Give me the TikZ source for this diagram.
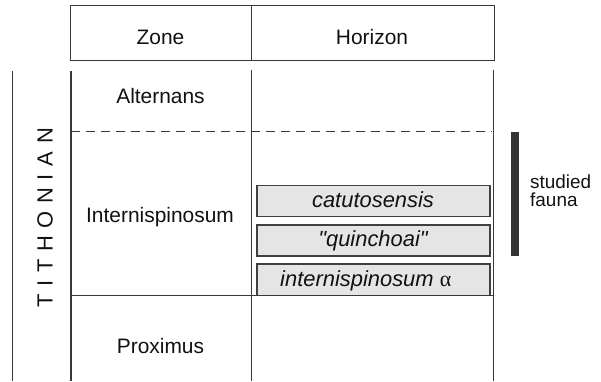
\documentclass[tikz,border=0pt]{standalone}
\usepackage{fontspec}
\setmainfont{Liberation Sans}
% plain family without the TeX quote mapping, for straight quotes
\newfontfamily\plainsans{Liberation Sans}
\newfontfamily\greekfont{Liberation Serif}
\definecolor{linegray}{HTML}{383838}
\definecolor{boxedge}{HTML}{404040}
\definecolor{boxfill}{HTML}{E5E5E5}
\definecolor{bargray}{HTML}{333333}
\definecolor{inkblack}{HTML}{111111}
\newcommand{\lgap}{\hskip7.7bp}
\begin{document}
\begin{tikzpicture}[x=1bp,y=-1bp,
  rule/.style={draw=linegray,line width=1.5bp},
  hcell/.style={font=\fontsize{21}{25}\selectfont, text=inkblack, anchor=base, inner sep=0},
  horizonbox/.style={draw=boxedge, fill=boxfill, line width=1.6bp},
  taxon/.style={font=\fontsize{22}{26}\selectfont\itshape, text=inkblack, anchor=base, inner sep=0},
  note/.style={font=\fontsize{19}{19}\selectfont, text=inkblack, anchor=base west, inner sep=0}]
\useasboundingbox (0,0) rectangle (601,381);

% header row
\draw[rule] (70.5,5.5) rectangle (494.5,60.5);
\draw[rule] (251.7,5.5) -- (251.7,60.5);
\node[hcell] (zone) at (160.5,44) {Zone};
\node[hcell] (horizon) at (372,44) {Horizon};

% horizon boxes
\draw[horizonbox] (257,185.5) rectangle (490,216.5);
\draw[horizonbox] (257,225) rectangle (490,256);
\draw[horizonbox] (257,264) rectangle (490,295.5);
\node[taxon] (cat) at (373,207.3) {catutosensis};
\node[taxon] (qui) at (373,246.7) {\plainsans\itshape "quinchoai"};
\node[taxon, anchor=base west] (int) at (280,286) {internispinosum {\greekfont\upshape α}};

% columns and zone boundaries
\draw[rule] (12.7,71) -- (12.7,381);
\draw[rule] (71,71) -- (71,381);
\draw[rule] (251.7,70) -- (251.7,381);
\draw[rule] (493.7,70) -- (493.7,381);
\draw[rule, dash pattern=on 9bp off 6bp] (71,131.7) -- (492,131.7);
\draw[rule] (71,295.7) -- (493.7,295.7);

% zone names
\node[hcell] (alt) at (160.5,103) {Alternans};
\node[hcell] (inter) at (160,222) {Internispinosum};
\node[hcell] (prox) at (160.5,353) {Proximus};

% stage name
\node[rotate=90, font=\fontsize{22}{26}\selectfont, text=inkblack, inner sep=0] (stage) at (45,218)
  {T\lgap I\lgap T\lgap H\lgap O\lgap N\lgap I\lgap A\lgap N};

% studied fauna range
\node[fill=bargray, minimum width=8bp, minimum height=124bp, inner sep=0, anchor=north west] (bar) at (510.5,132) {};
\node[note] (studied) at (530,188.3) {studied};
\node[note] (fauna) at (530,206.7) {fauna};
\end{tikzpicture}
\end{document}
